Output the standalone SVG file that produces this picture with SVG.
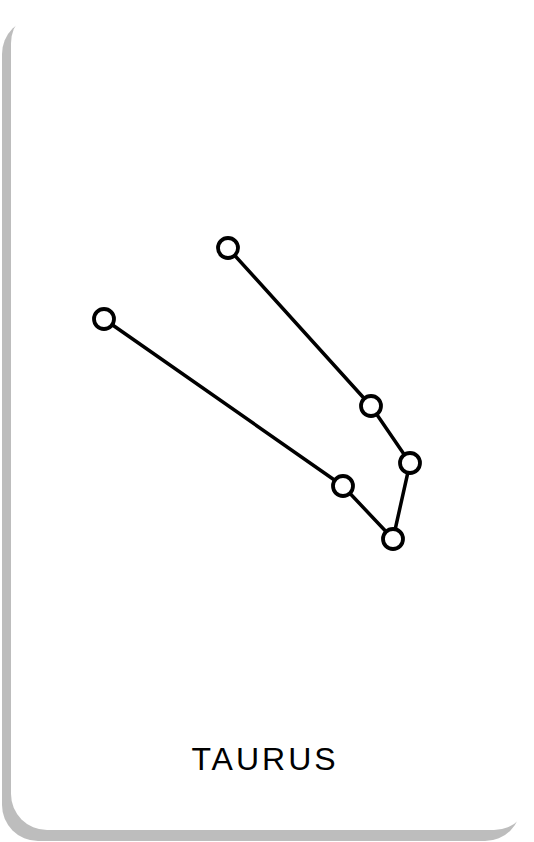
<svg xmlns="http://www.w3.org/2000/svg" width="534" height="842" viewBox="0 0 534 842">
<style>
.edge{stroke:#000;stroke-width:3.5;fill:none;stroke-linecap:round}
.star{fill:#fff;stroke:#000;stroke-width:3.8}
.label{font-family:"Liberation Sans",Arial,sans-serif;font-size:32px;fill:#000;letter-spacing:3px}
</style>
<rect width="534" height="842" fill="#fff"/>
<g id="card">
<rect x="2" y="18" width="519" height="823" rx="36" fill="#bdbdbd"/>
<rect x="11" y="7" width="519" height="823" rx="36" fill="#fff"/>
</g>
<g id="connectors">
<line class="edge" x1="228" y1="248" x2="371" y2="406"/>
<line class="edge" x1="371" y1="406" x2="410" y2="463"/>
<line class="edge" x1="410" y1="463" x2="393" y2="539"/>
<line class="edge" x1="393" y1="539" x2="343" y2="486"/>
<line class="edge" x1="343" y1="486" x2="104" y2="319"/>
</g>
<g id="star-a"><circle class="star" cx="228" cy="248" r="10"/></g>
<g id="star-b"><circle class="star" cx="104" cy="319" r="10"/></g>
<g id="star-c"><circle class="star" cx="371" cy="406" r="10"/></g>
<g id="star-d"><circle class="star" cx="410" cy="463" r="10"/></g>
<g id="star-e"><circle class="star" cx="343" cy="486" r="10"/></g>
<g id="star-f"><circle class="star" cx="393" cy="539" r="10"/></g>
<g id="title"><text class="label" x="265" y="770" text-anchor="middle">TAURUS</text></g>
</svg>
